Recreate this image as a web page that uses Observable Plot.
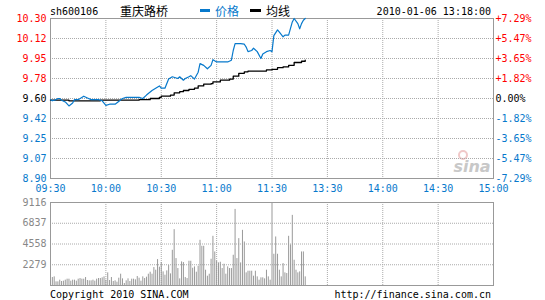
<!DOCTYPE html>
<html><head><meta charset="utf-8">
<script src="https://cdn.jsdelivr.net/npm/d3@7"></script>
<script src="https://cdn.jsdelivr.net/npm/@observablehq/plot@0.6"></script>
<style>
html,body{margin:0;padding:0;background:#fff;}
#wrap{position:relative;width:545px;height:300px;overflow:hidden;font-family:"DejaVu Sans Mono",monospace;}
#wrap svg{position:absolute;left:0;}
</style></head>
<body><div id="wrap">
<svg id="deco" width="545" height="300" style="top:0" font-family="DejaVu Sans Mono" font-size="10">
  <text x="50" y="15" fill="#000">sh600106</text>
  <text x="120" y="15.5" fill="#000" font-family="Noto Sans CJK SC" font-size="12">重庆路桥</text>
  <rect x="200" y="9" width="10" height="3" fill="#0779cc"/>
  <text x="215" y="15.5" fill="#0779cc" font-family="Noto Sans CJK SC" font-size="12">价格</text>
  <rect x="250" y="9" width="11" height="3" fill="#000"/>
  <text x="266" y="15.5" fill="#000" font-family="Noto Sans CJK SC" font-size="12">均线</text>
  <text x="491" y="15" fill="#000" text-anchor="end">2010-01-06 13:18:00</text>
  <circle cx="463" cy="155" r="4" fill="none" stroke="#f0c8c8" stroke-width="2"/>
  <text x="472" y="172" fill="#c8c8c8" font-family="DejaVu Sans" font-style="italic" font-weight="bold" font-size="16" text-anchor="middle">sina</text>
  <text x="50" y="298" fill="#000">Copyright 2010 SINA.COM</text>
  <text x="491" y="298" fill="#000" text-anchor="end">http://finance.sina.com.cn</text>
</svg>
</div>
<script>
// ---- data ----
const prevClose = 9.60;
const priceTickValues = [8.90, 9.075, 9.25, 9.425, 9.60, 9.775, 9.95, 10.125, 10.30];
const priceTickLabels = ["8.90","9.07","9.25","9.42","9.60","9.78","9.95","10.12","10.30"];
const pctTickLabels = ["-7.29%","-5.47%","-3.65%","-1.82%","0.00%","+1.82%","+3.65%","+5.47%","+7.29%"];
const timeTickLabels = ["09:30","10:00","10:30","11:00","11:30","13:30","14:00","14:30","15:00"];
const volTickValues = [2279, 4558, 6837, 9116];

const priceTimes = ["09:30","09:31","09:33","09:34","09:35","09:36","09:38","09:40","09:42","09:43","09:45","09:48","09:50","09:52","09:56","09:58","10:00","10:02","10:05","10:09","10:11","10:18","10:20","10:22","10:25","10:27","10:29","10:30","10:32","10:34","10:36","10:39","10:40","10:42","10:43","10:45","10:46","10:48","10:50","10:51","10:53","10:55","10:57","10:58","11:00","11:06","11:08","11:09","11:10","11:13","11:15","11:16","11:17","11:19","11:20","11:22","11:24","11:25","11:27","11:29","11:30","13:01","13:03","13:04","13:06","13:07","13:09","13:11","13:12","13:14","13:15","13:16","13:17","13:18"];
const priceValues = [9.59,9.58,9.59,9.60,9.60,9.585,9.57,9.535,9.56,9.59,9.59,9.62,9.605,9.59,9.59,9.58,9.54,9.55,9.55,9.60,9.61,9.61,9.60,9.63,9.67,9.69,9.71,9.69,9.69,9.77,9.79,9.775,9.79,9.76,9.775,9.79,9.80,9.77,9.83,9.905,9.89,9.86,9.89,9.94,9.92,9.92,9.935,10.02,10.08,10.08,10.075,10.05,10.01,10.02,10.04,10.01,9.95,9.99,10.01,10.02,10.01,10.15,10.20,10.18,10.14,10.155,10.155,10.27,10.30,10.255,10.21,10.255,10.285,10.30];

const avgTimes = ["09:30","09:40","09:57","10:18","10:24","10:29","10:30","10:35","10:37","10:40","10:42","10:45","10:48","10:50","10:53","10:57","10:58","11:02","11:07","11:09","11:12","11:15","11:17","11:25","11:27","11:30","13:03","13:06","13:09","13:12","13:16","13:18"];
const avgValues = [9.585,9.58,9.585,9.59,9.60,9.61,9.62,9.63,9.65,9.66,9.67,9.68,9.69,9.71,9.725,9.73,9.745,9.76,9.77,9.795,9.82,9.833,9.84,9.84,9.85,9.855,9.87,9.876,9.89,9.915,9.926,9.935];

// one bar per minute: 09:30..11:29, then 13:01..13:18
const volMorning = [1022,876,950,400,400,584,438,475,584,694,694,475,584,584,475,694,767,694,694,876,548,511,511,584,475,694,767,767,840,950,584,1387,548,876,438,511,365,803,1241,730,219,511,730,438,694,694,621,986,803,475,950,767,913,1241,1460,1241,1971,1679,2847,2008,2519,1497,1132,1606,2190,1278,3869,6132,2957,1862,
730,2592,2519,876,767,2665,2665,1898,2044,1460,2117,4964,4307,4307,1679,1022,1241,2884,5402,3686,2665,2482,2555,1862,2336,1241,2044,1862,1862,3322,8359,2957,5147,2482,6059,4782,1387,1570,1570,1570,1022,1570,949,584,840,840,730,1679,949,584];
const volAfternoon = [3431,5329,3431,1679,949,2409,1387,1314,5402,4453,7702,2774,1679,1387,1497,3686,3686,949];

// ---- helpers ----
function toMinute(s){ const [h,m]=s.split(":").map(Number); const v=h*60+m; return h<12 ? v-570 : v-780+120; }
const timeTicks = timeTickLabels.map(toMinute);
const innerTimeTicks = timeTicks.slice(1,-1).filter(t=>t!==120);
const priceRows = priceTimes.map((t,i)=>({t:toMinute(t), v:priceValues[i]}));
const avgRows = avgTimes.map((t,i)=>({t:toMinute(t), v:avgValues[i]}));
const volRows = volMorning.map((v,i)=>({t:i, v})).concat(volAfternoon.map((v,i)=>({t:121+i, v})));

const BLUE="#0779cc", RED="#ff0000", GRAY="#999";
const colorFor = d => d > prevClose + 1e-9 ? RED : (Math.abs(d-prevClose)<1e-9 ? "#000" : BLUE);
const font = {fontFamily:"DejaVu Sans Mono", fontSize:"10px", background:"transparent", overflow:"visible"};

const price = Plot.plot({
  width:545, height:196, marginLeft:50, marginRight:52, marginTop:18, marginBottom:18,
  style: font,
  x:{domain:[0,240], axis:null, label:null},
  y:{domain:[8.90,10.30], axis:null, label:null},
  marks:[
    Plot.gridX(timeTicks.slice(1,-1), {stroke:"#aaa", strokeOpacity:1, strokeDasharray:"1,1"}),
    Plot.gridY(priceTickValues.slice(1,-1), {stroke:"#aaa", strokeOpacity:1, strokeDasharray:"1,1"}),
    Plot.frame({stroke:GRAY}),
    Plot.line(avgRows, {x:"t", y:"v", stroke:"#000", strokeWidth:1.3, curve:"step-after"}),
    Plot.line(priceRows, {x:"t", y:"v", stroke:BLUE, strokeWidth:1.2}),
    Plot.axisY(priceTickValues, {anchor:"left", label:null, tickSize:0, tickPadding:4, fill:colorFor, tickFormat:d=>priceTickLabels[priceTickValues.indexOf(d)], fontSize:10}),
    Plot.axisY(priceTickValues, {anchor:"right", label:null, tickSize:0, tickPadding:2, fill:colorFor, tickFormat:d=>pctTickLabels[priceTickValues.indexOf(d)], fontSize:10}),
    Plot.axisX(timeTicks, {anchor:"bottom", label:null, tickSize:0, tickPadding:6, fill:BLUE, tickFormat:d=>timeTickLabels[timeTicks.indexOf(d)], fontSize:10})
  ]
});
price.style.top = "0px";
document.getElementById("wrap").appendChild(price);

const vol = Plot.plot({
  width:545, height:104, marginLeft:50, marginRight:52, marginTop:6, marginBottom:15,
  style: font,
  x:{domain:[0,240], axis:null, label:null},
  y:{domain:[0,9116], axis:null, label:null},
  marks:[
    Plot.gridX(innerTimeTicks, {stroke:"#aaa", strokeOpacity:1, strokeDasharray:"1,1"}),
    Plot.gridY(volTickValues.slice(0,-1), {stroke:"#aaa", strokeOpacity:1, strokeDasharray:"1,1"}),
    Plot.ruleX([120], {stroke:GRAY, strokeWidth:1}),
    Plot.ruleX(volRows, {x:"t", y1:0, y2:"v", stroke:GRAY, strokeWidth:1}),
    Plot.frame({stroke:GRAY}),
    Plot.axisY(volTickValues, {anchor:"left", label:null, tickSize:0, tickPadding:4, fill:"#888", tickFormat:d=>String(d), fontSize:10})
  ]
});
vol.style.top = "196px";
document.getElementById("wrap").appendChild(vol);
</script>
</body></html>
